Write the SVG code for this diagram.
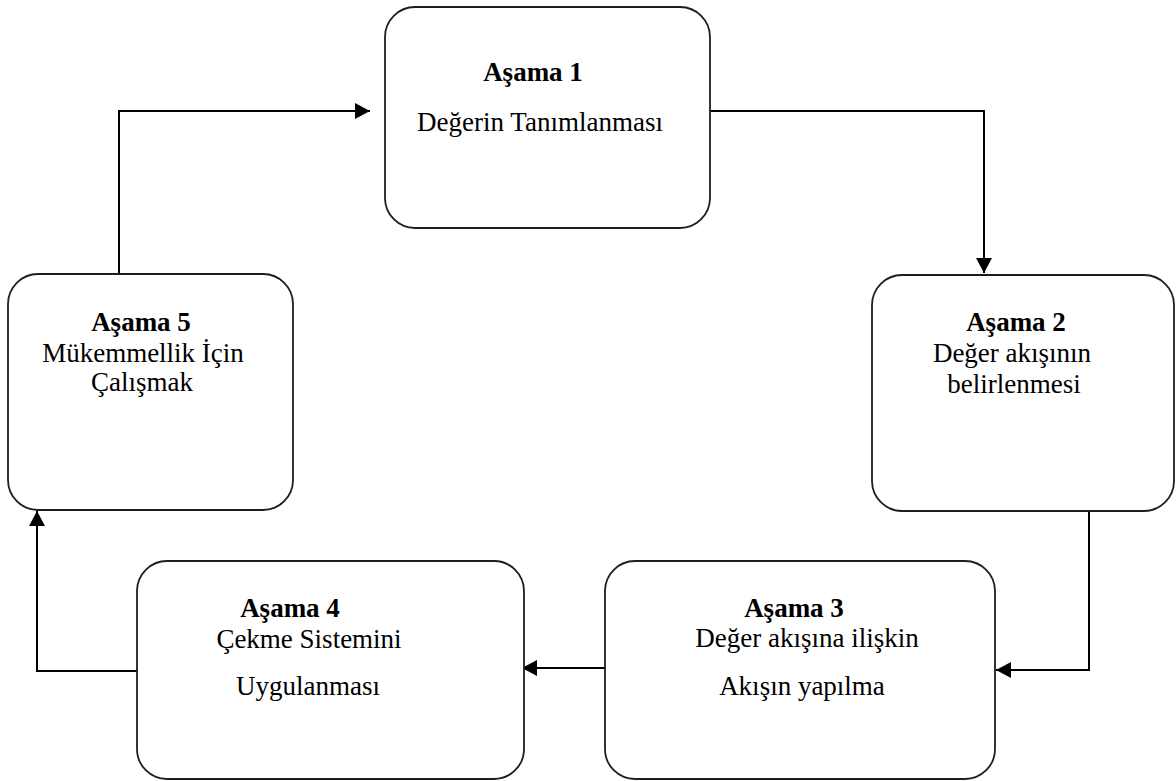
<svg xmlns="http://www.w3.org/2000/svg" width="1176" height="781" viewBox="0 0 1176 781">
<style>
.box{fill:#ffffff;stroke:#1e1e1e;stroke-width:1.8}
.t{font-family:"Liberation Serif","Times New Roman",serif;font-size:27px;fill:#000;text-anchor:middle}
.b{font-weight:bold}
.c{fill:none;stroke:#000;stroke-width:2}
</style>
<defs>
<marker id="ah" markerUnits="userSpaceOnUse" markerWidth="16" markerHeight="16" refX="15" refY="8" orient="auto">
<path d="M0,0 L15,8 L0,16 z" fill="#000"/>
</marker>
</defs>
<rect width="1176" height="781" fill="#ffffff"/>
<g id="connectors">
<path class="c" d="M119,274 V111 H370" marker-end="url(#ah)"/>
<path class="c" d="M693,111 H984 V273" marker-end="url(#ah)"/>
<path class="c" d="M1089,511 V670 H996" marker-end="url(#ah)"/>
<path class="c" d="M605,668 H522" marker-end="url(#ah)"/>
<path class="c" d="M137,671 H37 V511" marker-end="url(#ah)"/>
</g>
<g id="node1">
<rect class="box" x="385" y="7" width="325" height="221" rx="30"/>
<text class="t b" x="533" y="81">Aşama 1</text>
<text class="t" x="540" y="131">Değerin Tanımlanması</text>
</g>
<g id="node2">
<rect class="box" x="872" y="275" width="302" height="236" rx="30"/>
<text class="t b" x="1016" y="331">Aşama 2</text>
<text class="t" x="1012" y="362">Değer akışının</text>
<text class="t" x="1014" y="393">belirlenmesi</text>
</g>
<g id="node3">
<rect class="box" x="605" y="561" width="390" height="218" rx="30"/>
<text class="t b" x="794" y="617">Aşama 3</text>
<text class="t" x="807" y="647">Değer akışına ilişkin</text>
<text class="t" x="802" y="695">Akışın yapılma</text>
</g>
<g id="node4">
<rect class="box" x="137" y="561" width="387" height="218" rx="30"/>
<text class="t b" x="290" y="617">Aşama 4</text>
<text class="t" x="309" y="648">Çekme Sistemini</text>
<text class="t" x="308" y="695">Uygulanması</text>
</g>
<g id="node5">
<rect class="box" x="8" y="274" width="285" height="236" rx="30"/>
<text class="t b" x="141" y="331">Aşama 5</text>
<text class="t" x="143" y="362">Mükemmellik İçin</text>
<text class="t" x="142" y="391">Çalışmak</text>
</g>
</svg>
